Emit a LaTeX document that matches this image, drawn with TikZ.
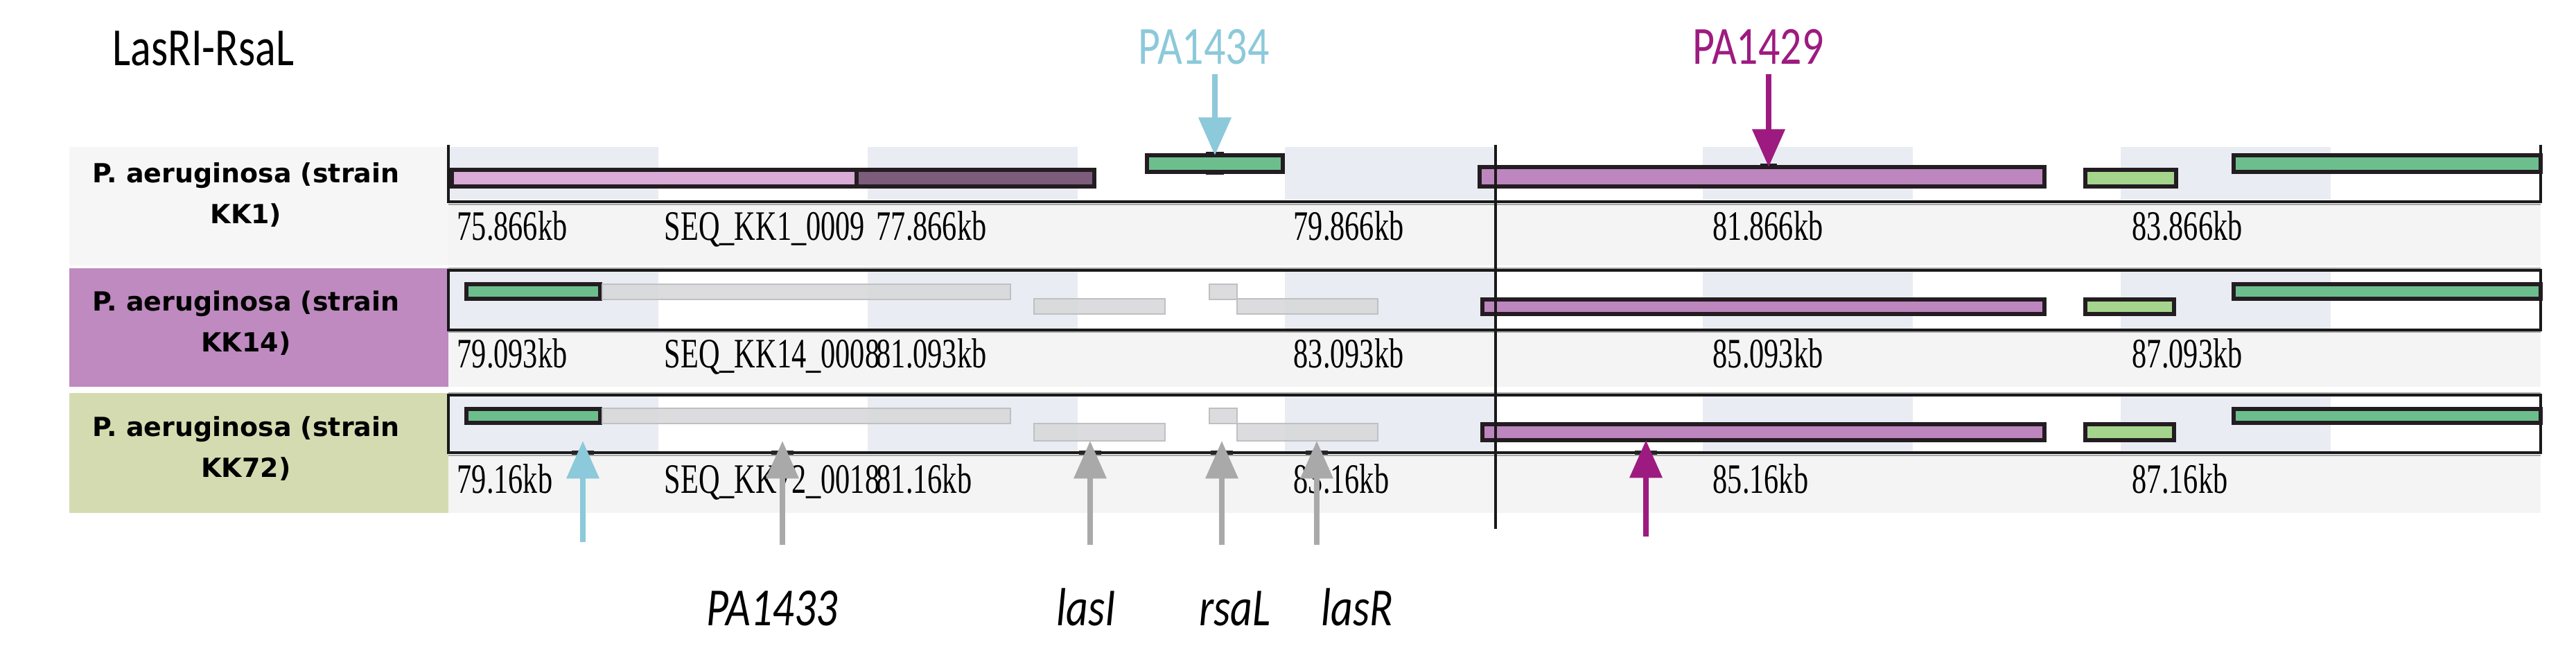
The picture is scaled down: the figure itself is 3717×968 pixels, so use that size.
\documentclass[tikz,border=0pt]{standalone}
\usepackage{fontspec}
\usepackage{graphicx}
\setmainfont{Liberation Serif}
\newfontfamily\calfont{Carlito}
\newfontfamily\labfont{DejaVu Sans}
\usetikzlibrary{arrows.meta}
\definecolor{shadecol}{HTML}{E9ECF2}
\definecolor{panelgray}{HTML}{F6F6F6}
\definecolor{rulercol}{HTML}{F4F4F4}
\definecolor{kkpurple}{HTML}{BE8ABF}
\definecolor{kkolive}{HTML}{D5DBB0}
\definecolor{gpink}{HTML}{D9ABD6}
\definecolor{gmauve}{HTML}{7E5C7C}
\definecolor{gpurple}{HTML}{BD86BF}
\definecolor{ggreen}{HTML}{6CBF8D}
\definecolor{glgreen}{HTML}{A5D58D}
\definecolor{ablue}{HTML}{8CC9DA}
\definecolor{amag}{HTML}{9D1B80}
\definecolor{agray}{HTML}{A9A9A9}
\definecolor{ghostfill}{HTML}{D6D7D9}
\definecolor{ghostdraw}{HTML}{BFC0C2}
\definecolor{gborder}{HTML}{231C21}
\newcommand{\sx}[2]{\scalebox{#1}[1]{#2}}
\newcommand{\gene}[6]{\node[genebox, fill=#6, minimum width={(#4-#2)*0.01cm}, minimum height={(#5-#3)*0.01cm}] (#1) at (#2,#3) {};}
\newcommand{\ghost}[5]{\node[ghostbox, minimum width={(#4-#2)*0.01cm}, minimum height={(#5-#3)*0.01cm}] (#1) at (#2,#3) {};}
\begin{document}
\begin{tikzpicture}[x=0.01cm,y=-0.01cm,
  genebox/.style={draw=gborder, line width=1.6pt, anchor=north west, inner sep=0pt, outer sep=0pt},
  ghostbox/.style={draw=ghostdraw, fill=ghostfill, fill opacity=0.85, line width=0.8pt, anchor=north west, inner sep=0pt, outer sep=0pt},
  ticklab/.style={anchor=base west, inner sep=0pt, font=\fontsize{17.2}{20}\selectfont},
  strainlab/.style={anchor=center, align=center, inner sep=0pt, font=\labfont\bfseries\fontsize{10.8}{17}\selectfont},
  sanslab/.style={anchor=base, inner sep=0pt, font=\calfont\fontsize{22}{26}\selectfont},
  trackline/.style={draw=black!90, line width=1.1pt},
  shadowline/.style={draw=black!35, line width=0.8pt},
  notch/.style={fill=gborder},
  arr/.style={line width=2.3pt, -{Triangle[length=15.5pt,width=13pt]}},
]
\useasboundingbox (0,0) rectangle (3717,968);
\fill[white] (0,0) rectangle (3717,968);

% title
\node[sanslab, anchor=base west, text=black] (title) at (162,95) {\sx{0.8}{LasRI-RsaL}};

% label panels
\fill[panelgray] (100,212) rectangle (647,383);
\fill[kkpurple] (100,387) rectangle (647,558);
\fill[kkolive] (100,567) rectangle (647,740);

% ruler bands
\fill[rulercol] (647,293) rectangle (3666,383);
\fill[rulercol] (647,478) rectangle (3666,558);
\fill[rulercol] (647,656) rectangle (3666,740);

% shading columns
\foreach \x in {647,1252,1854,2457,3060} {
  \fill[shadecol] (\x,212) rectangle (\x+303,288);
  \fill[shadecol] (\x,392) rectangle (\x+303,474);
  \fill[shadecol] (\x,572) rectangle (\x+303,651);
}

% track frames
\draw[shadowline] (647,295) -- (3666,295);
\draw[trackline] (647,209) -- (647,291) -- (3666,291) -- (3666,209);
\draw[shadowline] (647,387) -- (3666,387);
\draw[shadowline] (647,479) -- (3666,479);
\draw[trackline] (647,390) rectangle (3666,476);
\draw[shadowline] (647,567) -- (3666,567);
\draw[shadowline] (647,657) -- (3666,657);
\draw[trackline] (647,570) rectangle (3666,653);

% strain labels
\node[strainlab] (s1) at (355,281) {P. aeruginosa (strain\\KK1)};
\node[strainlab] (s14) at (355,466) {P. aeruginosa (strain\\KK14)};
\node[strainlab] (s72) at (355,647) {P. aeruginosa (strain\\KK72)};

% KK1 genes
\gene{k1pink}{652}{245}{1236}{269}{gpink}
\gene{k1mauve}{1236}{245}{1579}{269}{gmauve}
\gene{g1434}{1655}{224}{1851}{248}{ggreen}
\gene{g1429}{2135}{241}{2950}{269}{gpurple}
\gene{k1lg}{3009}{245}{3140}{269}{glgreen}
\gene{k1gr}{3223}{224}{3666}{248}{ggreen}
\fill[notch] (1740,219) rectangle (1766,227);
\fill[notch] (1740,246) rectangle (1766,252);
\fill[notch] (2540,236) rectangle (2564,244);

% KK14 genes
\gene{k14g}{673}{410}{866}{431}{ggreen}
\ghost{k14a}{869}{410}{1458}{432}
\ghost{k14b}{1492}{431}{1681}{453}
\ghost{k14c}{1745}{410}{1785}{432}
\ghost{k14d}{1785}{431}{1988}{453}
\gene{k14p}{2139}{432}{2950}{453}{gpurple}
\gene{k14lg}{3009}{432}{3137}{453}{glgreen}
\gene{k14gr}{3223}{410}{3666}{431}{ggreen}

% KK72 genes
\gene{k72g}{673}{590}{866}{610}{ggreen}
\ghost{k72a}{869}{589}{1458}{611}
\ghost{k72b}{1492}{611}{1681}{636}
\ghost{k72c}{1745}{589}{1785}{611}
\ghost{k72d}{1785}{611}{1988}{636}
\gene{k72p}{2139}{612}{2950}{635}{gpurple}
\gene{k72lg}{3009}{612}{3137}{635}{glgreen}
\gene{k72gr}{3223}{590}{3666}{610}{ggreen}

% ruler labels KK1
\node[ticklab] (t1a) at (659,347) {\sx{0.7}{75.866kb}};
\node[ticklab] (t1s) at (958,347) {\sx{0.7}{SEQ\_KK1\_0009}};
\node[ticklab] (t1b) at (1264,347) {\sx{0.7}{77.866kb}};
\node[ticklab] (t1c) at (1866,347) {\sx{0.7}{79.866kb}};
\node[ticklab] (t1d) at (2471,347) {\sx{0.7}{81.866kb}};
\node[ticklab] (t1e) at (3076,347) {\sx{0.7}{83.866kb}};
% ruler labels KK14
\node[ticklab] (t14a) at (659,531) {\sx{0.7}{79.093kb}};
\node[ticklab] (t14s) at (958,531) {\sx{0.7}{SEQ\_KK14\_0008}};
\node[ticklab] (t14b) at (1264,531) {\sx{0.7}{81.093kb}};
\node[ticklab] (t14c) at (1866,531) {\sx{0.7}{83.093kb}};
\node[ticklab] (t14d) at (2471,531) {\sx{0.7}{85.093kb}};
\node[ticklab] (t14e) at (3076,531) {\sx{0.7}{87.093kb}};
% ruler labels KK72
\node[ticklab] (t72a) at (659,712) {\sx{0.7}{79.16kb}};
\node[ticklab] (t72s) at (958,712) {\sx{0.7}{SEQ\_KK72\_0018}};
\node[ticklab] (t72b) at (1264,712) {\sx{0.7}{81.16kb}};
\node[ticklab] (t72c) at (1866,712) {\sx{0.7}{83.16kb}};
\node[ticklab] (t72d) at (2471,712) {\sx{0.7}{85.16kb}};
\node[ticklab] (t72e) at (3076,712) {\sx{0.7}{87.16kb}};

% vertical marker line
\coordinate (vtop) at (2158,209);
\coordinate (vbot) at (2158,763);
\draw[black!90, line width=0.9pt] (vtop) -- (vbot);

% top labels and arrows
\node[sanslab, text=ablue] (l1434) at (1737,93) {\sx{0.8}{PA1434}};
\node[sanslab, text=amag] (l1429) at (2537,93) {\sx{0.8}{PA1429}};
\coordinate (d1434) at (1753,107);
\coordinate (d1429) at (2552,107);
\draw[arr, ablue] (d1434) -- (d1434 |- g1434.north);
\draw[arr, amag] (d1429) -- (d1429 |- g1429.north);

% tick marks on KK72 border where the arrows cross
\foreach \x in {841,1129,1573,1763,1900,2375} {
  \fill[black!85] (\x-16,650) rectangle (\x+16,656);
}

% bottom arrows
\coordinate (u1b) at (841,782);
\coordinate (u1t) at (841,636);
\coordinate (u2b) at (1129,786);
\coordinate (u2t) at (1129,636);
\coordinate (u3b) at (1573,786);
\coordinate (u3t) at (1573,636);
\coordinate (u4b) at (1763,786);
\coordinate (u4t) at (1763,636);
\coordinate (u5b) at (1900,786);
\coordinate (u5t) at (1900,636);
\coordinate (u6b) at (2375,774);
\draw[arr, ablue] (u1b) -- (u1t);
\draw[arr, agray] (u2b) -- (u2t);
\draw[arr, agray] (u3b) -- (u3t);
\draw[arr, agray] (u4b) -- (u4t);
\draw[arr, agray] (u5b) -- (u5t);
\draw[arr, amag] (u6b) -- (u6b |- k72p.south);

% bottom labels
\node[sanslab, font=\calfont\itshape\fontsize{22}{26}\selectfont] (lpa1433) at (1114,903) {\sx{0.8}{PA1433}};
\node[sanslab, font=\calfont\itshape\fontsize{22}{26}\selectfont] (llasI) at (1567,903) {\sx{0.8}{lasI}};
\node[sanslab, font=\calfont\itshape\fontsize{22}{26}\selectfont] (lrsaL) at (1782,903) {\sx{0.8}{rsaL}};
\node[sanslab, font=\calfont\itshape\fontsize{22}{26}\selectfont] (llasR) at (1958,903) {\sx{0.8}{lasR}};
\end{tikzpicture}
\end{document}
